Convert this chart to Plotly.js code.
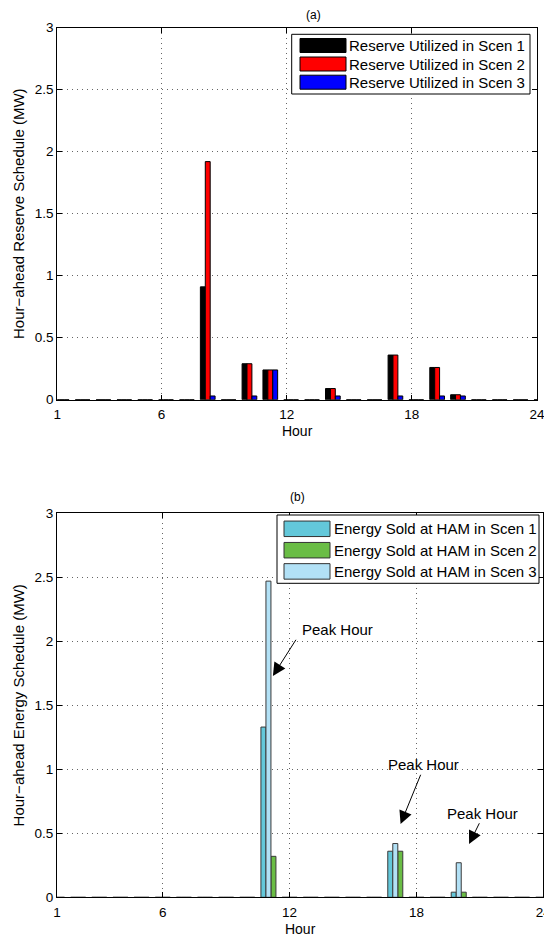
<!DOCTYPE html>
<html>
<head>
<meta charset="utf-8">
<script src="https://cdn.plot.ly/plotly-3.0.1.min.js"></script>
<style>html,body{margin:0;padding:0;background:#fff;}#chart{width:544px;height:937px;}</style>
</head>
<body>
<div id="chart"></div>
<script>
// ---- data ----
const hours = [1,2,3,4,5,6,7,8,9,10,11,12,13,14,15,16,17,18,19,20,21,22,23,24];
const reserveScen1 = [0,0,0,0,0,0,0,0.91,0,0.29,0.24,0,0,0.09,0,0,0.36,0,0.26,0.04,0,0,0,0];
const reserveScen2 = [0,0,0,0,0,0,0,1.92,0,0.29,0.24,0,0,0.09,0,0,0.36,0,0.26,0.04,0,0,0,0];
const reserveScen3 = [0,0,0,0,0,0,0,0.03,0,0.03,0.24,0,0,0.03,0,0,0.03,0,0.03,0.03,0,0,0,0];
const energyScen1 = [0,0,0,0,0,0,0,0,0,0,1.33,0,0,0,0,0,0.36,0,0,0.04,0,0,0,0];
const energyScen2 = [0,0,0,0,0,0,0,0,0,0,0.32,0,0,0,0,0,0.36,0,0,0.04,0,0,0,0];
const energyScen3 = [0,0,0,0,0,0,0,0,0,0,2.47,0,0,0,0,0,0.42,0,0,0.27,0,0,0,0];
const xTicks = [1,6,12,18,24];
const yTicks = [0,0.5,1,1.5,2,2.5,3];
const yTickText = ['0','0.5','1','1.5','2','2.5','3'];
const namesA = ['Reserve Utilized in Scen 1','Reserve Utilized in Scen 2','Reserve Utilized in Scen 3'];
const namesB = ['Energy Sold at HAM in Scen 1','Energy Sold at HAM in Scen 2','Energy Sold at HAM in Scen 3'];
const colorsA = ['#000000','#ff0000','#0000ff'];
const colorsB = ['#63c8da','#6abd45','#b2e1f6'];
const peakLabel = 'Peak Hour';

const FONT = '"Liberation Sans", Arial, Helvetica, sans-serif';
const W = 0.235, WB = 0.237;
const ML = 56, MT = 20, PW = 488, PH = 897;
const px = v => (v - ML) / PW;
const py = v => (MT + PH - v) / PH;

function barTrace(y, name, color, lineColor, offset, width, xa, ya) {
  return {type:'bar', x:hours, y:y, name:name, offset:offset, width:width,
    xaxis:xa, yaxis:ya, showlegend:false,
    marker:{color:color, line:{color:lineColor, width:1}}};
}

const data = [
  barTrace(reserveScen1, namesA[0], colorsA[0], '#000000', -0.14, W, 'x', 'y'),
  barTrace(reserveScen2, namesA[1], colorsA[1], '#000000', 0.095, W, 'x', 'y'),
  barTrace(reserveScen3, namesA[2], colorsA[2], '#000000', 0.33, W, 'x', 'y'),
  barTrace(energyScen1, namesB[0], colorsB[0], '#3a3a3a', -0.355, WB, 'x2', 'y2'),
  barTrace(energyScen2, namesB[1], colorsB[1], '#3a3a3a', 0.118, WB, 'x2', 'y2'),
  barTrace(energyScen3, namesB[2], colorsB[2], '#3a3a3a', -0.118, WB, 'x2', 'y2')
];

function xax(domain, anchor) {
  return {domain:domain, anchor:anchor, range:[0.999,24.001], tickmode:'array', tickvals:xTicks,
    ticks:'inside', ticklen:5, tickcolor:'#000', showline:true, linecolor:'#000', linewidth:1,
    mirror:'ticks', showgrid:true, gridcolor:'#666', griddash:'1px,4px', gridwidth:1,
    zeroline:false, automargin:false, ticklabelstandoff:2, ticklabeloverflow:'allow',
    tickfont:{family:FONT, size:13.5, color:'#000'},
    title:{text:'Hour', font:{family:FONT, size:14, color:'#000'}, standoff:5}};
}
function yax(domain, anchor, title) {
  return {domain:domain, anchor:anchor, range:[0,3], tickmode:'array', tickvals:yTicks, ticktext:yTickText,
    ticks:'inside', ticklen:5, tickcolor:'#000', showline:true, linecolor:'#000', linewidth:1,
    mirror:'ticks', showgrid:true, gridcolor:'#666', griddash:'1px,4px', gridwidth:1,
    zeroline:false, automargin:false, ticklabeloverflow:'allow', tickfont:{family:FONT, size:13.5, color:'#000'},
    title:{text:title, font:{family:FONT, size:15, color:'#000'}, standoff:6}};
}

function arrow(xh, yh, ax, ay) {
  return {xref:'x2', yref:'y2', x:xh, y:yh, ax:ax, ay:ay, text:'', showarrow:true,
    arrowhead:2, arrowsize:2.6, arrowwidth:1, arrowcolor:'#000'};
}
function label(xc, yc) {
  return {xref:'x2', yref:'y2', x:xc, y:yc, text:peakLabel, showarrow:false,
    font:{family:FONT, size:15, color:'#000'}};
}

// custom legends (box, patches and labels)
const shapes = [];
const annotations = [];
function legendBox(x0, x1, y0, y1, patchX0, patchX1, rows, patchH, textX, names, colors, edge) {
  shapes.push({type:'rect', xref:'paper', yref:'paper', x0:px(x0), x1:px(x1), y0:py(y1), y1:py(y0),
    line:{color:'#000', width:1}, fillcolor:'#fff', layer:'above'});
  rows.forEach((cy, i) => {
    shapes.push({type:'rect', xref:'paper', yref:'paper', x0:px(patchX0), x1:px(patchX1),
      y0:py(cy + patchH/2), y1:py(cy - patchH/2), line:{color:edge, width:1}, fillcolor:colors[i], layer:'above'});
    annotations.push({xref:'paper', yref:'paper', x:px(textX), y:py(cy), xanchor:'left', yanchor:'middle',
      text:names[i], showarrow:false, borderpad:0, font:{family:FONT, size:15, color:'#000'}});
  });
}
legendBox(291.7, 530, 34.3, 94, 300, 346, [45.5, 64, 82.2], 14, 348, namesA, colorsA, '#000');
legendBox(277, 539, 515, 583.3, 284, 330, [528.8, 550.2, 571.4], 15.5, 333, namesB, colorsB, '#333');

annotations.push(
  {xref:'paper', yref:'paper', x:px(297), y:py(497), text:'(b)', showarrow:false,
    font:{family:FONT, size:12, color:'#000'}},
  arrow(11.21, 1.729, 24, -37.7), label(14.25, 2.096),
  arrow(17.25, 0.573, 20.7, -50.7), label(18.33, 1.034),
  arrow(20.49, 0.416, 11, -22.3), label(21.11, 0.656)
);

const layout = {
  width:544, height:937,
  margin:{l:ML, r:0, t:MT, b:937-MT-PH},
  paper_bgcolor:'#fff', plot_bgcolor:'#fff',
  showlegend:false,
  barmode:'overlay',
  font:{family:FONT, color:'#000'},
  title:{text:'(a)', font:{family:FONT, size:12, color:'#000'}, x:287/544, xanchor:'center', xref:'paper', y:1-15/937, yanchor:'middle'},
  xaxis: xax([px(57.3), px(537)], 'y'),
  yaxis: yax([py(399.7), py(27.7)], 'x', 'Hour\u2212ahead Reserve Schedule (MW)'),
  xaxis2: xax([px(57), px(543.3)], 'y2'),
  yaxis2: yax([py(897.3), py(513.3)], 'x2', 'Hour\u2212ahead Energy Schedule (MW)'),
  shapes: shapes,
  annotations: annotations
};

Plotly.newPlot('chart', data, layout, {staticPlot:true, displayModeBar:false});
</script>
</body>
</html>
